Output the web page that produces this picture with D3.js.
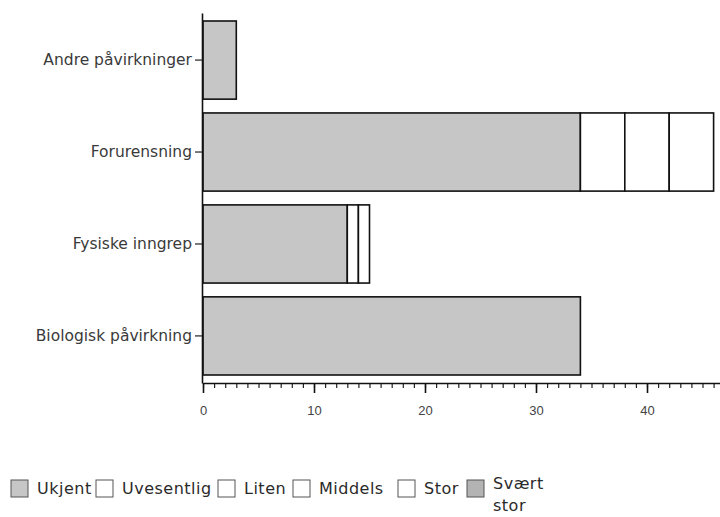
<!DOCTYPE html>
<html>
<head>
<meta charset="utf-8">
<script src="https://cdn.jsdelivr.net/npm/d3@7"></script>
<style>
  html, body { margin: 0; padding: 0; background: #fff; }
  svg { display: block; font-family: "DejaVu Sans", Verdana, sans-serif; }
</style>
</head>
<body>
<svg id="chart" width="720" height="517"></svg>
<script>
// Påvirkningstyper og antall per grad av påvirkning
const categories = ["Andre påvirkninger", "Forurensning", "Fysiske inngrep", "Biologisk påvirkning"];
const seriesNames = ["Ukjent", "Uvesentlig", "Liten", "Middels", "Stor", "Svært stor"];
const ukjent     = [3, 34, 13, 34];
const uvesentlig = [0, 4, 1, 0];
const liten      = [0, 4, 1, 0];
const middels    = [0, 4, 0, 0];
const stor       = [0, 0, 0, 0];
const svaertStor = [0, 0, 0, 0];
const majorTicks = [0, 10, 20, 30, 40];
const legendLabels = ["Ukjent", "Uvesentlig", "Liten", "Middels", "Stor", ["Svært", "stor"]];

const seriesValues = [ukjent, uvesentlig, liten, middels, stor, svaertStor];
const colors = ["#c6c6c6", "#ffffff", "#ffffff", "#ffffff", "#ffffff", "#b3b3b3"];

const rows = categories.map((c, i) => {
  const r = { category: c };
  seriesNames.forEach((s, j) => { r[s] = seriesValues[j][i]; });
  return r;
});

const svg = d3.select("#chart");

const x = d3.scaleLinear().domain([0, 50]).range([203, 758]);
const y = d3.scaleBand().domain(categories).range([13, 383])
  .paddingInner(0.15).paddingOuter(0.087);

const stacked = d3.stack().keys(seriesNames)(rows);

// Stablede stolper
svg.append("g").selectAll("g")
  .data(stacked)
  .join("g")
  .attr("fill", (d, i) => colors[i])
  .selectAll("rect")
  .data(d => d.filter(p => p[1] - p[0] > 0))
  .join("rect")
  .attr("x", d => x(d[0]))
  .attr("y", d => y(d.data.category))
  .attr("width", d => x(d[1]) - x(d[0]))
  .attr("height", y.bandwidth())
  .attr("stroke", "#111")
  .attr("stroke-width", 1.6);

// Y-akse
const yAxis = svg.append("g")
  .attr("transform", "translate(202,0)")
  .call(d3.axisLeft(y).tickSize(7).tickSizeOuter(0).tickPadding(3));
yAxis.select(".domain").attr("stroke", "#111").attr("stroke-width", 1.6);
yAxis.selectAll(".tick line").attr("stroke", "#222").attr("stroke-width", 1.2);
yAxis.selectAll(".tick text")
  .attr("font-size", 15.5)
  .attr("fill", "#3a3a3a")
  .attr("font-family", "'DejaVu Sans', Verdana, sans-serif");

// X-akse: små streker for hver enhet
const minor = svg.append("g")
  .attr("transform", "translate(0,383)")
  .call(d3.axisBottom(x).tickValues(d3.range(0, 47)).tickSize(5).tickSizeOuter(0).tickFormat(""));
minor.select(".domain").remove();
minor.selectAll(".tick line").attr("stroke", "#222").attr("stroke-width", 1.2);

// X-akse: hovedstreker med tall
const major = svg.append("g")
  .attr("transform", "translate(0,383)")
  .call(d3.axisBottom(x).tickValues(majorTicks).tickSize(10).tickSizeOuter(0).tickPadding(13));
major.select(".domain").attr("stroke", "#111").attr("stroke-width", 1.6);
major.selectAll(".tick line").attr("stroke", "#111").attr("stroke-width", 1.6);
major.selectAll(".tick text")
  .attr("font-size", 13)
  .attr("fill", "#444");

// Tegnforklaring: rute + tekst, plassert i en rad nederst
const legendX = [11, 96, 218, 293, 398, 467];
const legend = svg.append("g");
legendLabels.forEach((lab, i) => {
  const lx = legendX[i];
  const g = legend.append("g");
  g.append("rect")
    .attr("x", lx).attr("y", 480)
    .attr("width", 17).attr("height", 17)
    .attr("fill", colors[i])
    .attr("stroke", "#555").attr("stroke-width", 1);
  const t = g.append("text")
    .attr("x", lx + 26)
    .attr("font-size", 16)
    .attr("letter-spacing", 0.5)
    .attr("fill", "#2a2a2a");
  if (Array.isArray(lab)) {
    t.attr("y", 489);
    lab.forEach((part, k) => {
      t.append("tspan").attr("x", lx + 26).attr("dy", k === 0 ? 0 : 22).text(part);
    });
  } else {
    t.attr("y", 494).text(lab);
  }
});
</script>
</body>
</html>
